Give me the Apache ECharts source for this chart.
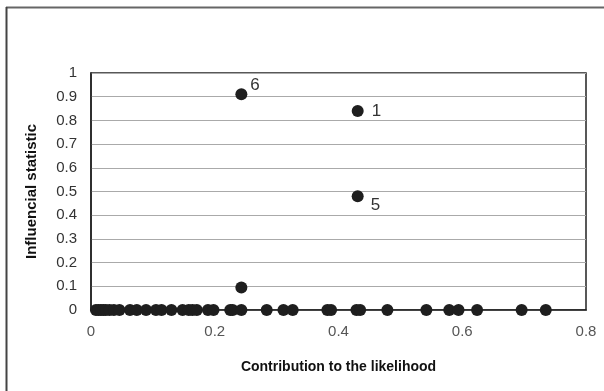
<!DOCTYPE html>
<html>
<head>
<meta charset="utf-8">
<script src="https://cdn.jsdelivr.net/npm/echarts@6/dist/echarts.min.js"></script>
<style>
  html, body { margin: 0; padding: 0; background: #fff; }
  #chart { width: 604px; height: 391px; }
</style>
</head>
<body>
<div id="chart"></div>
<script>
// Observations lying on the zero line of the influence statistic
const zeroContrib = [0.008, 0.012, 0.016, 0.020, 0.024, 0.030, 0.037, 0.046, 0.063, 0.074, 0.089, 0.105,
  0.114, 0.130, 0.148, 0.158, 0.164, 0.171, 0.189, 0.198, 0.225, 0.229, 0.243, 0.284,
  0.311, 0.326, 0.382, 0.388, 0.429, 0.435, 0.479, 0.542, 0.579, 0.594, 0.624, 0.696, 0.735];
// Observations with a non-zero influence statistic
const highContrib = [0.243, 0.431, 0.431, 0.243];
const highInfluence = [0.91, 0.84, 0.48, 0.095];
const highLabels = ['6', '1', '5', ''];
const xTicks = [0, 0.2, 0.4, 0.6, 0.8];
const yTicks = [0, 0.1, 0.2, 0.3, 0.4, 0.5, 0.6, 0.7, 0.8, 0.9, 1];

const labelPos = { '6': [3, -9], '1': [8, 0], '5': [7, 9] };

const points = zeroContrib.map(x => ({ value: [x, 0] }));
highContrib.forEach((x, i) => {
  const item = { value: [x, highInfluence[i]] };
  if (highLabels[i]) {
    item.label = {
      show: true, formatter: highLabels[i], position: 'right', distance: 0,
      offset: labelPos[highLabels[i]],
      fontSize: 17, color: '#333', fontFamily: 'Liberation Sans, Arial, sans-serif'
    };
  }
  points.push(item);
});

const chart = echarts.init(document.getElementById('chart'), null, { renderer: 'canvas' });
chart.setOption({
  animation: false,
  backgroundColor: '#fff',
  grid: { left: 91, top: 73, right: 18, bottom: 81, show: true, borderColor: '#222', borderWidth: 1.5 },
  xAxis: {
    type: 'value', min: 0, max: 0.8, interval: 0.2,
    name: 'Contribution to the likelihood', nameLocation: 'middle', nameGap: 50,
    nameTextStyle: { fontWeight: 'bold', fontSize: 14, color: '#111', fontFamily: 'Liberation Sans, Arial, sans-serif' },
    axisLine: { show: true, lineStyle: { color: '#222', width: 1.5 } },
    axisTick: { show: false },
    splitLine: { show: false },
    axisLabel: {
      margin: 14, fontSize: 15, color: '#555', fontFamily: 'Liberation Sans, Arial, sans-serif',
      formatter: v => xTicks.includes(+v.toFixed(1)) ? String(+v.toFixed(1)) : ''
    }
  },
  yAxis: {
    type: 'value', min: 0, max: 1, interval: 0.1,
    name: 'Influencial statistic', nameLocation: 'middle', nameGap: 52,
    nameTextStyle: { fontWeight: 'bold', fontSize: 15, color: '#111', fontFamily: 'Liberation Sans, Arial, sans-serif' },
    axisLine: { show: true, lineStyle: { color: '#222', width: 1.5 } },
    axisTick: { show: false },
    splitLine: { show: true, lineStyle: { color: '#aaa', width: 1 } },
    axisLabel: {
      margin: 14, fontSize: 15, color: '#333', fontFamily: 'Liberation Sans, Arial, sans-serif',
      formatter: v => String(yTicks.find(t => Math.abs(t - v) < 1e-6))
    }
  },
  series: [{
    type: 'scatter',
    symbol: 'circle',
    symbolSize: 12,
    itemStyle: { color: '#1e1e1e', opacity: 1 },
    data: points
  }],
  graphic: [
    { type: 'line', shape: { x1: 6, y1: 7.5, x2: 604, y2: 7.5 }, style: { stroke: '#666', lineWidth: 2 } },
    { type: 'line', shape: { x1: 6.5, y1: 7, x2: 6.5, y2: 391 }, style: { stroke: '#444', lineWidth: 2 } }
  ]
});
</script>
</body>
</html>
